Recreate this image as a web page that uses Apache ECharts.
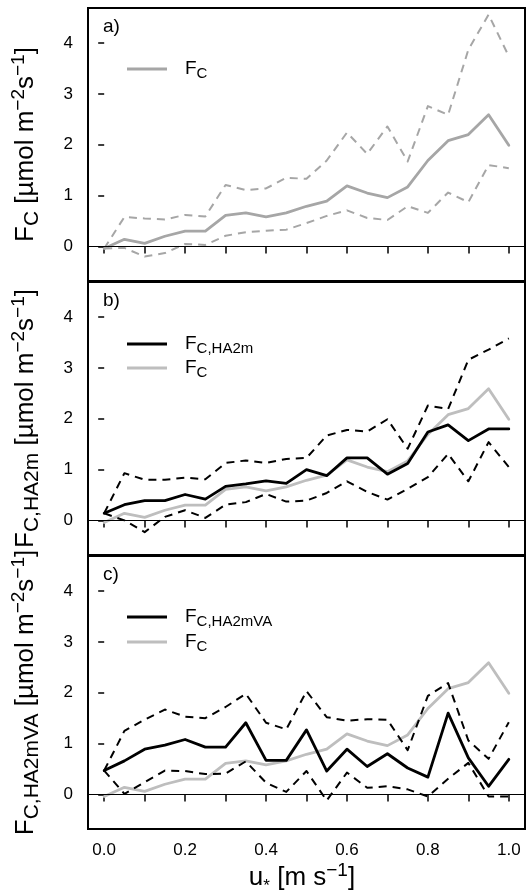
<!DOCTYPE html>
<html>
<head>
<meta charset="utf-8">
<script src="https://cdn.jsdelivr.net/npm/echarts@6/dist/echarts.min.js"></script>
<style>
  html, body { margin: 0; padding: 0; background: #ffffff; }
  #chart { width: 530px; height: 894px; }
</style>
</head>
<body>
<div id="chart"></div>
<script>
// friction velocity bins [m s-1]
const uStar = [0.00, 0.05, 0.10, 0.15, 0.20, 0.25, 0.30, 0.35, 0.40, 0.45, 0.50,
               0.55, 0.60, 0.65, 0.70, 0.75, 0.80, 0.85, 0.90, 0.95, 1.00];

// F_C: bin mean with lower / upper bounds
const fcMean  = [-0.04, 0.14, 0.06, 0.20, 0.30, 0.30, 0.61, 0.66, 0.58, 0.66, 0.79,
                 0.89, 1.19, 1.05, 0.96, 1.17, 1.69, 2.08, 2.20, 2.59, 1.99];
const fcUpper = [-0.04, 0.58, 0.55, 0.53, 0.62, 0.59, 1.21, 1.11, 1.14, 1.35, 1.33,
                 1.69, 2.24, 1.82, 2.36, 1.67, 2.76, 2.59, 3.87, 4.56, 3.74];
const fcLower = [-0.04, -0.03, -0.20, -0.13, 0.05, 0.03, 0.21, 0.28, 0.31, 0.33, 0.46,
                 0.60, 0.71, 0.56, 0.52, 0.79, 0.66, 1.06, 0.87, 1.60, 1.54];

// F_C,HA2m
const ha2mMean  = [0.14, 0.31, 0.39, 0.39, 0.51, 0.42, 0.67, 0.72, 0.78, 0.73, 1.00,
                   0.88, 1.23, 1.23, 0.91, 1.12, 1.74, 1.88, 1.57, 1.80, 1.80];
const ha2mUpper = [0.14, 0.93, 0.80, 0.80, 0.84, 0.81, 1.13, 1.18, 1.13, 1.21, 1.23,
                   1.67, 1.78, 1.75, 1.99, 1.41, 2.26, 2.19, 3.16, 3.36, 3.58];
const ha2mLower = [0.14, 0.00, -0.23, 0.07, 0.20, 0.05, 0.31, 0.36, 0.52, 0.37, 0.39,
                   0.54, 0.77, 0.56, 0.41, 0.62, 0.85, 1.31, 0.77, 1.54, 1.05];

// F_C,HA2mVA
const ha2mvaMean  = [0.47, 0.66, 0.89, 0.97, 1.08, 0.93, 0.93, 1.41, 0.67, 0.67, 1.27,
                     0.46, 0.89, 0.55, 0.80, 0.52, 0.34, 1.60, 0.72, 0.16, 0.69];
const ha2mvaUpper = [0.47, 1.25, 1.47, 1.67, 1.53, 1.50, 1.72, 1.98, 1.41, 1.28, 2.03,
                     1.52, 1.45, 1.48, 1.47, 0.87, 1.94, 2.19, 1.06, 0.70, 1.42];
const ha2mvaLower = [0.47, 0.01, 0.24, 0.47, 0.46, 0.40, 0.41, 0.65, 0.23, 0.05, 0.46,
                     -0.12, 0.43, 0.13, 0.16, 0.10, -0.04, 0.31, 0.62, -0.04, -0.04];

// axis ticks and labels
const xTicks  = [0.0, 0.1, 0.2, 0.3, 0.4, 0.5, 0.6, 0.7, 0.8, 0.9, 1.0];
const xLabels = [0.0, 0.2, 0.4, 0.6, 0.8, 1.0];
const yTicks  = [0, 1, 2, 3, 4];

const FONT = "'Liberation Sans', Arial, Helvetica, sans-serif";
const GRAY_A = '#a6a6a6';
const GRAY_BC = '#bebebe';

const panelTops = [8, 282, 556];
const panelH = 273;
const plotLeft = 88;
const plotW = 437;

const pairs = arr => uStar.map((u, i) => [u, arr[i]]);

function solid(name, idx, arr, color, z) {
  return {
    name, type: 'line', xAxisIndex: idx, yAxisIndex: idx,
    data: pairs(arr), symbol: 'none', animation: false, silent: true,
    lineStyle: { color, width: 2.8, type: 'solid', cap: 'round', join: 'round' },
    z: z || 4
  };
}
function dashed(name, idx, arr, color) {
  return {
    name, type: 'line', xAxisIndex: idx, yAxisIndex: idx,
    data: pairs(arr), symbol: 'none', animation: false, silent: true,
    lineStyle: { color, width: 2, type: [8, 6], cap: 'butt', join: 'round' },
    z: 3
  };
}
function zeroLine(idx) {
  return {
    name: 'zero' + idx, type: 'line', xAxisIndex: idx, yAxisIndex: idx,
    data: [], symbol: 'none', animation: false, silent: true,
    markLine: {
      silent: true, symbol: 'none', animation: false,
      label: { show: false },
      lineStyle: { color: '#000', width: 1.2, type: 'solid' },
      data: [{ yAxis: 0 }]
    },
    z: 2
  };
}

const grids = panelTops.map(t => ({
  left: plotLeft, top: t, width: plotW, height: panelH,
  show: true, borderColor: '#000', borderWidth: 2, backgroundColor: 'transparent',
  containLabel: false
}));

const xAxes = panelTops.map((t, i) => ({
  type: 'value', gridIndex: i, min: -0.04, max: 1.04,
  axisLine: { show: false },
  splitLine: { show: false },
  axisTick: { show: true, inside: false, length: 7, customValues: xTicks,
              lineStyle: { color: '#000', width: 1.5 } },
  axisLabel: { show: i === 2, customValues: xLabels, margin: 13,
               formatter: v => v.toFixed(1),
               fontSize: 17, color: '#000', fontFamily: FONT }
}));

const yAxes = panelTops.map((t, i) => ({
  type: 'value', gridIndex: i, min: -0.68, max: 4.69,
  axisLine: { show: false },
  splitLine: { show: false },
  axisTick: { show: true, inside: false, length: 6, customValues: yTicks,
              lineStyle: { color: '#000', width: 1.5 } },
  axisLabel: { show: true, customValues: yTicks, margin: 15,
               fontSize: 17, color: '#000', fontFamily: FONT }
}));

const series = [
  zeroLine(0), zeroLine(1), zeroLine(2),
  // panel a
  dashed('F_C upper', 0, fcUpper, GRAY_A),
  dashed('F_C lower', 0, fcLower, GRAY_A),
  solid('F_C', 0, fcMean, GRAY_A),
  // panel b: grey mean beneath the black curves
  solid('F_C (b)', 1, fcMean, GRAY_BC, 3),
  dashed('F_C,HA2m upper', 1, ha2mUpper, '#000'),
  dashed('F_C,HA2m lower', 1, ha2mLower, '#000'),
  solid('F_C,HA2m', 1, ha2mMean, '#000'),
  // panel c
  solid('F_C (c)', 2, fcMean, GRAY_BC, 3),
  dashed('F_C,HA2mVA upper', 2, ha2mvaUpper, '#000'),
  dashed('F_C,HA2mVA lower', 2, ha2mvaLower, '#000'),
  solid('F_C,HA2mVA', 2, ha2mvaMean, '#000')
];

// rich text styles for axis titles and legend entries
const titleRich = {
  m:  { fontSize: 26, lineHeight: 34, fontFamily: FONT, fill: '#000' },
  sb: { fontSize: 21, lineHeight: 21, verticalAlign: 'bottom', fontFamily: FONT, fill: '#000' },
  sp: { fontSize: 19, lineHeight: 19, verticalAlign: 'top', fontFamily: FONT, fill: '#000' },
  st: { fontSize: 17, lineHeight: 24, verticalAlign: 'bottom', fontFamily: FONT, fill: '#000' }
};
const legRich = {
  m:  { fontSize: 19, lineHeight: 24, fontFamily: FONT, fill: '#000' },
  sb: { fontSize: 15, lineHeight: 15, verticalAlign: 'bottom', fontFamily: FONT, fill: '#000' }
};
const unitText = '{m| [µmol m}{sp|−2}{m|s}{sp|−1}{m|]}';

function yTitle(label, cy) {
  return {
    type: 'text', x: 26, y: cy, rotation: Math.PI / 2, silent: true,
    style: { text: label + unitText, rich: titleRich, align: 'center', verticalAlign: 'middle' }
  };
}
function legLine(y, color) {
  return {
    type: 'line', silent: true,
    shape: { x1: 127, y1: y, x2: 167, y2: y },
    style: { stroke: color, lineWidth: 2.8 }
  };
}
function legText(y, txt) {
  return {
    type: 'text', x: 185, y: y, silent: true,
    style: { text: txt, rich: legRich, align: 'left', verticalAlign: 'middle' }
  };
}
function panelTag(y, t) {
  return {
    type: 'text', x: 103, y: y, silent: true,
    style: { text: t, fontSize: 19, fontFamily: FONT, fill: '#000',
             align: 'left', verticalAlign: 'middle' }
  };
}

const graphic = [
  yTitle('{m|F}{sb|C}', panelTops[0] + panelH / 2),
  yTitle('{m|F}{sb|C,HA2m}', panelTops[1] + panelH / 2),
  yTitle('{m|F}{sb|C,HA2mVA}', panelTops[2] + panelH / 2),
  {
    type: 'text', x: 302, y: 878, silent: true,
    style: { text: '{m|u}{st|*}{m| [m s}{sp|−1}{m|]}', rich: titleRich,
             align: 'center', verticalAlign: 'middle' }
  },
  panelTag(27, 'a)'), panelTag(301, 'b)'), panelTag(575, 'c)'),
  legLine(69, GRAY_A), legText(69, '{m|F}{sb|C}'),
  legLine(344, '#000'), legText(344, '{m|F}{sb|C,HA2m}'),
  legLine(368, GRAY_BC), legText(368, '{m|F}{sb|C}'),
  legLine(617, '#000'), legText(617, '{m|F}{sb|C,HA2mVA}'),
  legLine(642, GRAY_BC), legText(642, '{m|F}{sb|C}')
];

const chart = echarts.init(document.getElementById('chart'), null, { renderer: 'canvas' });
chart.setOption({
  backgroundColor: '#ffffff',
  animation: false,
  grid: grids,
  xAxis: xAxes,
  yAxis: yAxes,
  series,
  graphic
});
</script>
</body>
</html>
